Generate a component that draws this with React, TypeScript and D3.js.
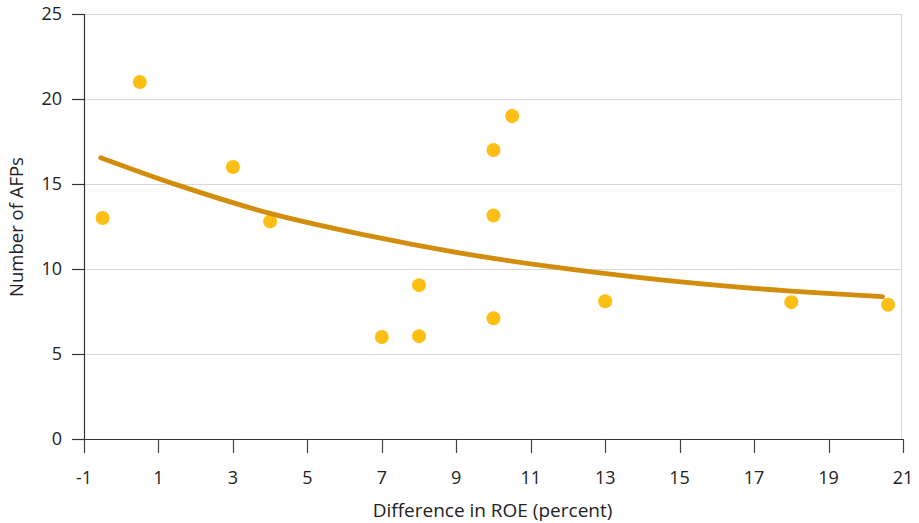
import React from "react";
import * as d3 from "d3";

const roeDiff: number[] = [-0.5, 0.5, 3, 4, 7, 8, 8, 10, 10, 10, 10.5, 13, 18, 20.6];
const afpCount: number[] = [13, 21, 16, 12.8, 6, 9.05, 6.05, 7.1, 13.15, 17, 19, 8.1, 8.05, 7.9];

const trendX: number[] = [-0.55, 1.5, 4, 6.5, 9, 11.5, 14, 16.5, 18, 20.45];
const trendY: number[] = [16.55, 14.95, 13.27, 12.02, 10.98, 10.15, 9.48, 8.95, 8.7, 8.37];

const xTicks: number[] = [-1, 1, 3, 5, 7, 9, 11, 13, 15, 17, 19, 21];
const yTicks: number[] = [0, 5, 10, 15, 20, 25];

const xTitle = "Difference in ROE (percent)";
const yTitle = "Number of AFPs";

export default function App() {
  const W = 919, H = 523;
  const left = 84, right = 903, top = 14, bottom = 439;
  const x = d3.scaleLinear().domain([-1, 21]).range([left, right]);
  const y = d3.scaleLinear().domain([0, 25]).range([bottom, top]);
  const font = "'Open Sans', sans-serif";
  const line = d3
    .line<[number, number]>()
    .x((d) => x(d[0]))
    .y((d) => y(d[1]))
    .curve(d3.curveCatmullRom.alpha(0.5));
  const trend: [number, number][] = trendX.map((v, i) => [v, trendY[i]]);

  return (
    <svg
      width={W}
      height={H}
      style={{ position: "absolute", left: 0, top: 0, background: "#fff" }}
      fontFamily={font}
    >
      {yTicks.filter((t) => t > 0).map((t) => (
        <line key={"g" + t} x1={left} x2={right - 1} y1={Math.round(y(t)) + 0.5} y2={Math.round(y(t)) + 0.5} stroke="#d9d9d9" strokeWidth={1.2} />
      ))}
      <line x1={right - 1.5} x2={right - 1.5} y1={top} y2={bottom} stroke="#d9d9d9" strokeWidth={1.2} />
      {/* y axis */}
      <line x1={left + 0.5} x2={left + 0.5} y1={top} y2={bottom} stroke="#333" strokeWidth={1.2} />
      {yTicks.map((t) => (
        <g key={"yt" + t}>
          <line x1={72} x2={left} y1={Math.round(y(t)) + 0.5} y2={Math.round(y(t)) + 0.5} stroke="#333" strokeWidth={1.2} />
          <text x={62} y={y(t) + 6.4} textAnchor="end" fontSize={18} fill="#222">
            {t}
          </text>
        </g>
      ))}
      {/* x axis */}
      <line x1={left} x2={right} y1={bottom + 0.5} y2={bottom + 0.5} stroke="#333" strokeWidth={1.2} />
      {xTicks.map((t) => (
        <g key={"xt" + t}>
          <line x1={Math.round(x(t)) + 0.5} x2={Math.round(x(t)) + 0.5} y1={bottom} y2={bottom + 14} stroke="#444" strokeWidth={1.2} />
          <text x={x(t)} y={484} textAnchor="middle" fontSize={18} fill="#222">
            {t}
          </text>
        </g>
      ))}
      <text x={492.5} y={517} textAnchor="middle" fontSize={19} fill="#222">
        {xTitle}
      </text>
      <text transform={`translate(23,227) rotate(-90)`} textAnchor="middle" fontSize={18.5} fill="#222">
        {yTitle}
      </text>
      {/* points */}
      {roeDiff.map((v, i) => (
        <circle key={"p" + i} cx={x(v)} cy={y(afpCount[i])} r={7} fill="#FDBF13" />
      ))}
      <path d={line(trend) || ""} fill="none" stroke="#D28D0D" strokeWidth={4.8} strokeLinecap="round" />
    </svg>
  );
}
